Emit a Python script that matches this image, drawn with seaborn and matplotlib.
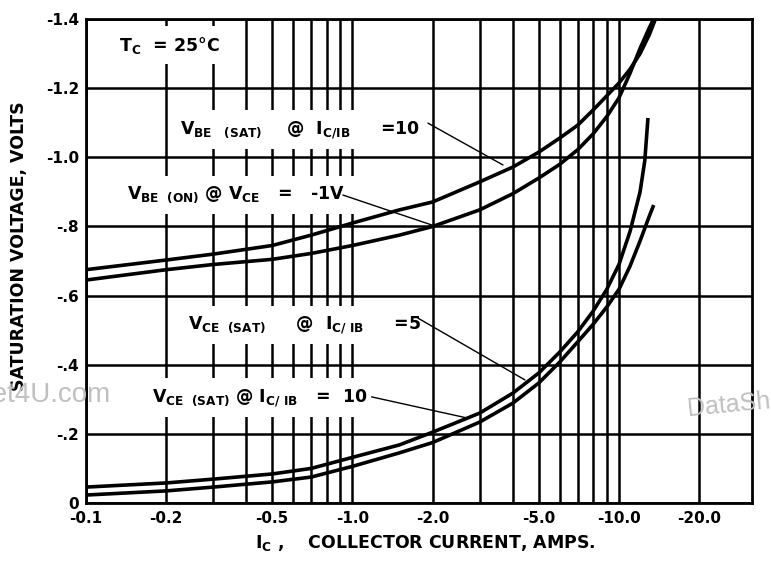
import matplotlib
matplotlib.use("Agg")
import matplotlib.pyplot as plt
import matplotlib.ticker as mticker
import pandas as pd
import seaborn as sns

# collector current (amps, magnitude) and saturation voltages (volts, magnitude)
ic_vbe_sat = [0.1, 0.2, 0.3, 0.5, 0.7, 1.0, 1.5, 2.0, 3.0, 4.0, 5.0, 6.0, 7.0, 8.0, 9.0, 10.0, 11.0, 12.0, 13.0, 13.7]
v_vbe_sat = [0.675, 0.703, 0.72, 0.745, 0.775, 0.81, 0.848, 0.871, 0.929, 0.972, 1.015, 1.056, 1.093, 1.137, 1.178, 1.215, 1.255, 1.30, 1.355, 1.40]

ic_vbe_on = [0.1, 0.2, 0.3, 0.5, 0.7, 1.0, 1.5, 2.0, 3.0, 4.0, 5.0, 6.0, 7.0, 8.0, 9.0, 10.0, 11.0, 12.0, 13.0, 13.5]
v_vbe_on = [0.645, 0.675, 0.69, 0.705, 0.722, 0.745, 0.775, 0.80, 0.848, 0.895, 0.94, 0.98, 1.022, 1.068, 1.118, 1.172, 1.243, 1.315, 1.375, 1.40]

ic_vce_10 = [0.1, 0.2, 0.3, 0.5, 0.7, 1.0, 1.5, 2.0, 3.0, 4.0, 5.0, 6.0, 7.0, 8.0, 9.0, 10.0, 11.0, 12.0, 12.5, 12.85]
v_vce_10 = [0.046, 0.058, 0.069, 0.084, 0.10, 0.132, 0.168, 0.205, 0.26, 0.318, 0.376, 0.437, 0.495, 0.555, 0.618, 0.69, 0.785, 0.90, 0.99, 1.114]

ic_vce_5 = [0.1, 0.2, 0.3, 0.5, 0.7, 1.0, 1.5, 2.0, 3.0, 4.0, 5.0, 6.0, 7.0, 8.0, 9.0, 10.0, 11.0, 12.0, 13.0, 13.5]
v_vce_5 = [0.023, 0.035, 0.046, 0.061, 0.075, 0.106, 0.145, 0.175, 0.234, 0.289, 0.347, 0.408, 0.466, 0.517, 0.567, 0.618, 0.685, 0.758, 0.83, 0.862]

x_major = [0.1, 0.2, 0.5, 1.0, 2.0, 5.0, 10.0, 20.0]
x_labels = ["-0.1", "-0.2", "-0.5", "-1.0", "-2.0", "-5.0", "-10.0", "-20.0"]
x_minor = [0.3, 0.4, 0.6, 0.7, 0.8, 0.9, 3.0, 4.0, 6.0, 7.0, 8.0, 9.0]
y_ticks = [0.0, 0.2, 0.4, 0.6, 0.8, 1.0, 1.2, 1.4]
y_labels = ["0", "-.2", "-.4", "-.6", "-.8", "-1.0", "-1.2", "-1.4"]

sns.set_theme(style="white")
plt.rcParams["font.family"] = ["DejaVu Sans"]
plt.rcParams["font.weight"] = "bold"
plt.rcParams["mathtext.default"] = "bf"
plt.rcParams["text.color"] = "black"
plt.rcParams["axes.labelcolor"] = "black"

fig = plt.figure(figsize=(7.71, 5.62), dpi=100)
ax = fig.add_axes([0.1115, 0.105, 0.864, 0.861])

curves = [
    (ic_vbe_sat, v_vbe_sat),
    (ic_vbe_on, v_vbe_on),
    (ic_vce_10, v_vce_10),
    (ic_vce_5, v_vce_5),
]
for ic, v in curves:
    df = pd.DataFrame({"ic": ic, "v": v})
    sns.lineplot(data=df, x="ic", y="v", color="black", lw=2.6, estimator=None,
                 solid_capstyle="butt", ax=ax, zorder=3)

ax.set_xscale("log")
ax.set_xlim(0.1, 31.6)
ax.set_ylim(0, 1.4)
ax.xaxis.set_major_locator(mticker.FixedLocator(x_major))
ax.xaxis.set_major_formatter(mticker.FixedFormatter(x_labels))
ax.xaxis.set_minor_locator(mticker.FixedLocator(x_minor))
ax.xaxis.set_minor_formatter(mticker.NullFormatter())
ax.set_yticks(y_ticks)
ax.set_yticklabels(y_labels)
ax.grid(which="both", axis="x", color="black", lw=1.8)
ax.grid(which="major", axis="y", color="black", lw=1.8)
ax.set_axisbelow(True)
ax.tick_params(which="both", length=0, colors="black")
ax.tick_params(axis="x", labelsize=11, pad=6)
ax.tick_params(axis="y", labelsize=11, pad=5)
for s in ax.spines.values():
    s.set_visible(True)
    s.set_color("black")
    s.set_linewidth(2)

ax.set_xlabel(r"I$_{C}$ ,    COLLECTOR CURRENT, AMPS.", fontsize=12.5, fontweight="bold")
ax.set_ylabel("SATURATION VOLTAGE, VOLTS", fontsize=12.5, fontweight="bold")
ax.xaxis.set_label_coords(0.509, -0.063)
ax.yaxis.set_label_coords(-0.087, 0.53)

box = dict(boxstyle="square,pad=0.5", facecolor="white", edgecolor="none")
tk = dict(fontsize=12.5, fontweight="bold", va="center", ha="left", zorder=4, bbox=box)
ax.text(0.133, 1.325, r"T$_{C}$  = 25°C", **tk)
ax.text(0.225, 1.08, r"V$_{BE\ \ \ (SAT)}$    @  I$_{C/IB}$     =10", **tk)
ax.text(0.1426, 0.891, r"V$_{BE\ \ (ON)}$ @ V$_{CE}$   =   -1V", **tk)
ax.text(0.2415, 0.515, r"V$_{CE\ \ (SAT)}$     @  I$_{C/\ IB}$     =5", **tk)
ax.text(0.177, 0.304, r"V$_{CE\ \ (SAT)}$ @ I$_{C/\ IB}$   =  10", **tk)

leaders = [
    ((1.92, 1.099), (3.67, 0.978)),
    ((0.921, 0.891), (1.99, 0.804)),
    ((1.76, 0.535), (4.44, 0.356)),
    ((1.18, 0.307), (2.69, 0.246)),
]
for start, end in leaders:
    ax.annotate("", xy=end, xytext=start,
                arrowprops=dict(arrowstyle="-", color="black", lw=1.0, shrinkA=0, shrinkB=0),
                zorder=5)

wm = dict(color="#c0c0c0", family="Liberation Sans", fontweight="normal", zorder=10)
fig.text(110 / 771, 1 - 402 / 562, "www.DataSheet4U.com", ha="right", va="baseline", fontsize=20, **wm)
fig.text(688 / 771, 1 - 416 / 562, "DataSheet4U.com", ha="left", va="baseline", rotation=5.5,
         rotation_mode="anchor", fontsize=18, **wm)

fig.savefig("out.png", dpi=100)
plt.close(fig)
